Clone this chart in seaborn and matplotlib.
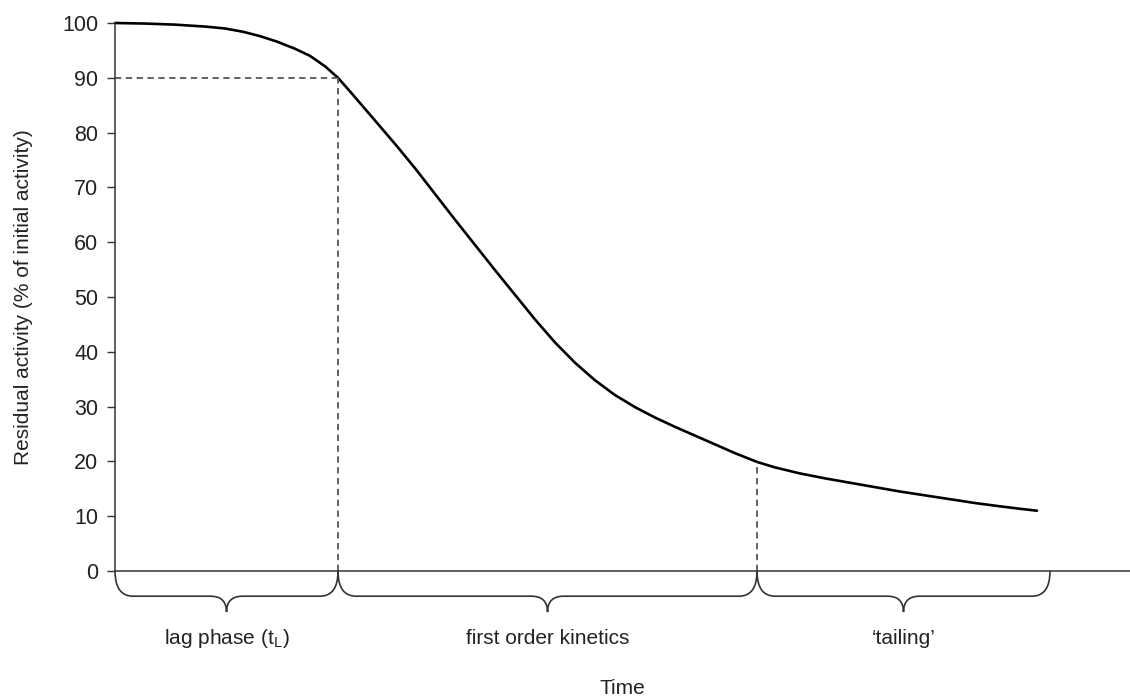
import numpy as np
import pandas as pd
import matplotlib
matplotlib.use("Agg")
import matplotlib.pyplot as plt
from matplotlib.path import Path
from matplotlib.patches import PathPatch
import seaborn as sns

# inactivation curve (time in arbitrary units)
time = [0.0, 0.3, 0.6, 0.9, 1.1, 1.28, 1.45, 1.62, 1.8, 1.95, 2.1, 2.23, 2.36,
        2.6, 2.82, 3.0, 3.2, 3.4, 3.6, 3.8, 4.0, 4.2, 4.4, 4.6, 4.8, 5.0,
        5.2, 5.4, 5.6, 5.8, 6.0, 6.2, 6.42, 6.6, 6.85, 7.1, 7.35, 7.6, 7.85,
        8.1, 8.35, 8.6, 8.85, 9.05, 9.22]
activity = [100.0, 99.9, 99.7, 99.35, 99.0, 98.4, 97.6, 96.6, 95.3, 94.0, 92.1, 90.0, 87.3,
            82.2, 77.5, 73.5, 68.8, 64.1, 59.5, 54.9, 50.4, 45.9, 41.7, 38.0, 34.8, 32.1,
            29.9, 28.0, 26.3, 24.7, 23.1, 21.5, 19.9, 18.9, 17.8, 16.9, 16.1, 15.3, 14.5,
            13.8, 13.1, 12.4, 11.8, 11.35, 11.0]

# phase boundaries on the time axis and their labels
phase_bounds = [0.0, 2.23, 6.42, 9.35]
phase_labels = ["lag phase (t$_\\mathregular{L}$)", "first order kinetics", "\u2018tailing\u2019"]
lag_level = 90
tail_level = 19.9

yticks = list(range(0, 101, 10))

sns.set_style("ticks")
plt.rcParams["font.family"] = ["Liberation Sans", "DejaVu Sans"]

df = pd.DataFrame({"Time": time, "Residual activity": activity})

fig = plt.figure(figsize=(11.3, 6.97), dpi=100)
ax = fig.add_axes([0.1018, 0.1808, 0.8982, 0.7862])

sns.lineplot(data=df, x="Time", y="Residual activity", ax=ax, color="black",
             linewidth=1.9, clip_on=False)

dash = dict(color="#555555", linewidth=1.3, linestyle=(0, (3.5, 2.5)), clip_on=False)
ax.plot([phase_bounds[0], phase_bounds[1]], [lag_level, lag_level], **dash)
ax.plot([phase_bounds[1], phase_bounds[1]], [0, lag_level], **dash)
ax.plot([phase_bounds[2], phase_bounds[2]], [0, tail_level], **dash)

ax.set_xlim(0, 10.15)
ax.set_ylim(0, 100)
ax.set_yticks(yticks)
ax.set_xticks([])
ax.tick_params(axis="y", direction="out", length=6, width=1.0, color="#333333",
               labelsize=15.5, pad=6, labelcolor="#222222")

for side in ["top", "right"]:
    ax.spines[side].set_visible(False)
for side in ["left", "bottom"]:
    ax.spines[side].set_color("#333333")
    ax.spines[side].set_linewidth(1.1)

ax.set_ylabel("Residual activity (% of initial activity)", fontsize=15, color="#222222")
ax.yaxis.set_label_coords(-0.081, 0.5)
ax.set_xlabel("Time", fontsize=15, color="#222222")
ax.xaxis.set_label_coords(0.5, -0.197)

# curly braces below the time axis, one per phase
h, tip, r, r2 = 4.6, 7.5, 0.18, 0.16
for x0, x1, label in zip(phase_bounds[:-1], phase_bounds[1:], phase_labels):
    m = (x0 + x1) / 2
    verts = [(x0, 0), (x0, -h), (x0 + r, -h),
             (m - r2, -h), (m, -h), (m, -tip),
             (m, -h), (m + r2, -h),
             (x1 - r, -h), (x1, -h), (x1, 0)]
    codes = [Path.MOVETO, Path.CURVE3, Path.CURVE3,
             Path.LINETO, Path.CURVE3, Path.CURVE3,
             Path.CURVE3, Path.CURVE3,
             Path.LINETO, Path.CURVE3, Path.CURVE3]
    ax.add_patch(PathPatch(Path(verts, codes), facecolor="none", edgecolor="#333333",
                           linewidth=1.2, clip_on=False))
    ax.text(m, -12.3, label, ha="center", va="center", fontsize=15, color="#222222")

fig.savefig("out.png", dpi=100)
